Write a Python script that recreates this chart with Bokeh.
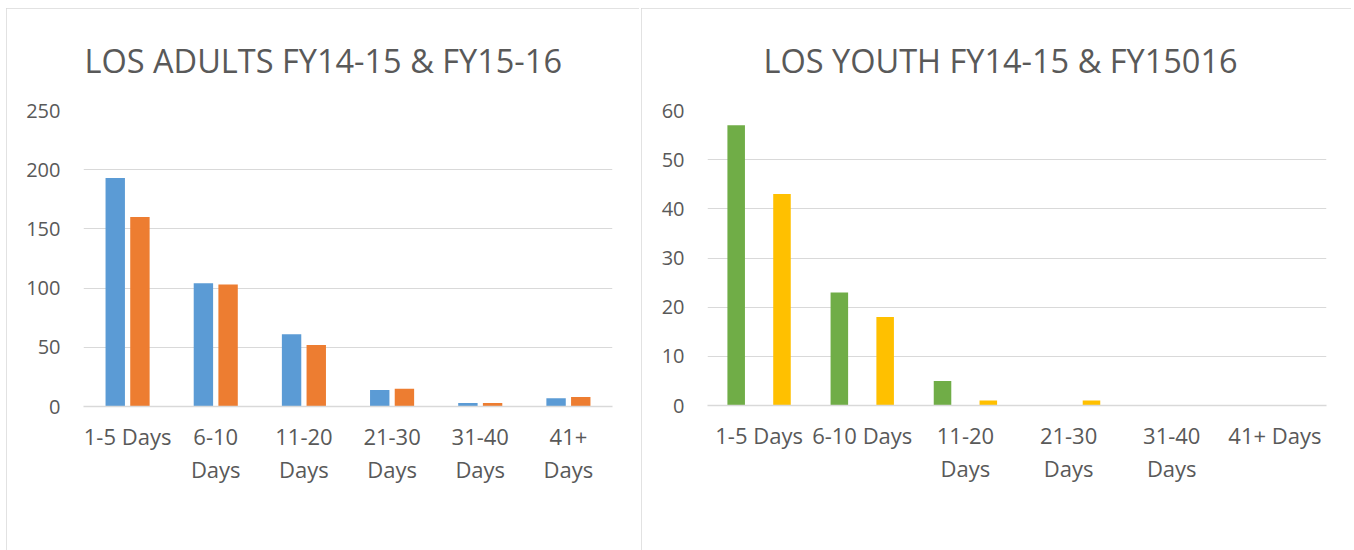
from bokeh.plotting import figure
from bokeh.layouts import row
from bokeh.models import (ColumnDataSource, Range1d, FixedTicker, Legend, LegendItem, LinearAxis)
from bokeh.transform import dodge
from bokeh.embed import file_html
from bokeh.resources import INLINE

# ---------------- data ----------------
categories = ["1-5 Days", "6-10 Days", "11-20 Days", "21-30 Days", "31-40 Days", "41+ Days"]
# axis texts, line 1 and line 2, as the reference wraps them
adult_label_line1 = ["1-5 Days", "6-10", "11-20", "21-30", "31-40", "41+"]
adult_label_line2 = ["", "Days", "Days", "Days", "Days", "Days"]
youth_label_line1 = ["1-5 Days", "6-10 Days", "11-20", "21-30", "31-40", "41+ Days"]
youth_label_line2 = ["", "", "Days", "Days", "Days", ""]

adults_fy1415 = [193, 104, 61, 14, 3, 7]
adults_fy1516 = [160, 103, 52, 15, 3, 8]

youth_fy1415 = [57, 23, 5, 0, 0, 0]
youth_unnamed = []          # empty series shown only in the legend
youth_fy1516 = [43, 18, 1, 1, 0, 0]

adult_yticks = [0, 50, 100, 150, 200, 250]
youth_yticks = [0, 10, 20, 30, 40, 50, 60]

adult_title = "LOS ADULTS FY14-15 & FY15-16"
youth_title = "LOS YOUTH FY14-15 & FY15016"

FONT = "Open Sans"
TXT = "#595959"
GRID = "#d9d9d9"

idx = list(range(len(categories)))


def style_label_axis(ax, labels, standoff, line_color):
    pos = [i for i, t in zip(idx, labels) if t]
    txt = [t for t in labels if t]
    ax.ticker = FixedTicker(ticks=pos)
    ax.major_label_overrides = dict(zip(pos, txt))
    ax.axis_line_color = line_color
    ax.axis_line_width = 1.5
    ax.major_tick_line_color = None
    ax.minor_tick_line_color = None
    ax.major_tick_out = 0
    ax.major_tick_in = 0
    ax.minor_tick_out = 0
    ax.major_label_text_font = FONT
    ax.major_label_text_font_size = "22px"
    ax.major_label_text_color = TXT
    ax.major_label_standoff = standoff


def base_fig(title, title_offset, left, frame_w, frame_h, yticks, line1, line2):
    p = figure(x_range=Range1d(-0.5, len(categories) - 0.5),
               y_range=Range1d(yticks[0], yticks[-1]),
               frame_width=frame_w, frame_height=frame_h,
               min_border_left=left, min_border_right=27,
               min_border_top=99, min_border_bottom=147,
               output_backend="svg", toolbar_location=None)
    p.title.text = title
    p.title.align = "left"
    p.title.offset = title_offset
    p.title.standoff = 55
    p.title.text_font = FONT
    p.title.text_font_size = "32.5px"
    p.title.text_font_style = "normal"
    p.title.text_color = TXT
    p.outline_line_color = None
    p.xgrid.grid_line_color = None
    p.ygrid.grid_line_color = GRID
    p.ygrid.grid_line_width = 1.2

    p.yaxis.ticker = FixedTicker(ticks=yticks)
    p.yaxis.axis_line_color = None
    p.yaxis.major_tick_line_color = None
    p.yaxis.minor_tick_line_color = None
    p.yaxis.major_tick_out = 0
    p.yaxis.major_tick_in = 0
    p.yaxis.major_label_text_font = FONT
    p.yaxis.major_label_text_font_size = "20px"
    p.yaxis.major_label_text_color = TXT
    p.yaxis.major_label_standoff = 23

    style_label_axis(p.xaxis[0], line1, 14, GRID)
    ax2 = LinearAxis()
    style_label_axis(ax2, line2, 0, None)
    p.add_layout(ax2, "below")
    return p


def add_legend(p, items, spacing, m):
    leg = Legend(items=items, orientation="horizontal", location="center",
                 glyph_width=16, glyph_height=16, label_standoff=4, spacing=spacing,
                 padding=0, margin=m, border_line_color=None, background_fill_alpha=0,
                 label_text_font=FONT, label_text_font_size="22px", label_text_color=TXT)
    p.add_layout(leg, "below")


# ---------------- adults ----------------
p1 = base_fig(adult_title, 1, 77, 529, 296, adult_yticks, adult_label_line1, adult_label_line2)
src1 = ColumnDataSource(dict(x=idx, a=adults_fy1415, b=adults_fy1516))
r1a = p1.vbar(x=dodge("x", -0.14), top="a", width=0.22,
              source=src1, fill_color="#5B9BD5", line_color=None)
r1b = p1.vbar(x=dodge("x", 0.14), top="b", width=0.22,
              source=src1, fill_color="#ED7D31", line_color=None)
add_legend(p1, [LegendItem(label="FY14-15", renderers=[r1a]),
                LegendItem(label="FY15-16", renderers=[r1b])], 19, 17)
p1.styles = {"outline": "2px solid #d9d9d9", "outline-offset": "-2px",
             "clip-path": "inset(0 0 2px 0)"}

# ---------------- youth ----------------
p2 = base_fig(youth_title, 56, 66, 619, 295, youth_yticks, youth_label_line1, youth_label_line2)
src2 = ColumnDataSource(dict(x=idx, a=youth_fy1415, c=youth_fy1516))
src2b = ColumnDataSource(dict(x=idx[:len(youth_unnamed)], b=youth_unnamed))
r2a = p2.vbar(x=dodge("x", -0.222), top="a", width=0.17,
              source=src2, fill_color="#70AD47", line_color=None)
r2b = p2.vbar(x="x", top="b", width=0.17,
              source=src2b, fill_color="#4472C4", line_color=None)
r2c = p2.vbar(x=dodge("x", 0.222), top="c", width=0.17,
              source=src2, fill_color="#FFC000", line_color=None)
add_legend(p2, [LegendItem(label="FY14-15", renderers=[r2a]),
                LegendItem(label="", renderers=[r2b]),
                LegendItem(label="FY15-16", renderers=[r2c])], 15, 17)
p2.styles = {"outline": "2px solid #d9d9d9", "outline-offset": "-2px",
             "clip-path": "inset(0 2px 2px 0)"}

layout = row(p1, p2, spacing=2)
layout.styles = {"margin-left": "6px", "margin-top": "8px"}
open("out.html", "w").write(file_html(layout, INLINE))
